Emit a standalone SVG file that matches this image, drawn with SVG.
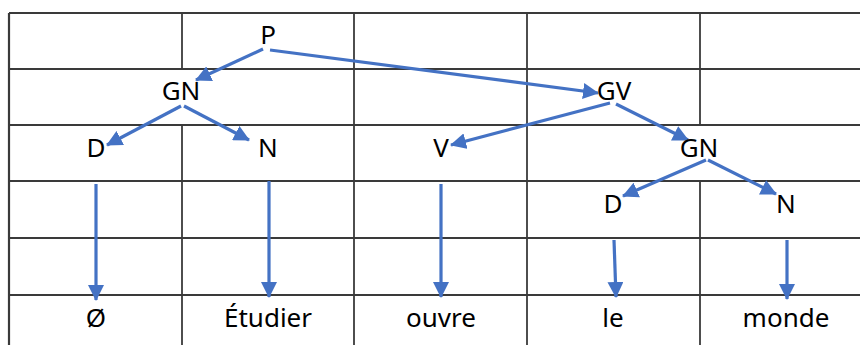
<svg xmlns="http://www.w3.org/2000/svg" width="860" height="345" viewBox="0 0 860 345">
<defs>
<style>
.grid line{stroke:#3a3a3a;stroke-width:1.8}
.lbl{font-family:"Noto Sans","DejaVu Sans",sans-serif;font-size:26px;fill:#000;text-anchor:middle}
.arr{stroke:#4472C4;stroke-width:3.2;fill:none;marker-end:url(#ah)}
</style>
<marker id="ah" markerUnits="userSpaceOnUse" markerWidth="16" markerHeight="16" refX="15" refY="8" orient="auto">
<path d="M0,0 L16,8 L0,16 z" fill="#4472C4"/>
</marker>
</defs>
<rect width="860" height="345" fill="#fff"/>
<g class="grid" id="grid">
<line x1="9" y1="13" x2="860" y2="13" style="stroke-width:2.2"/>
<line x1="9" y1="69" x2="860" y2="69"/>
<line x1="9" y1="125" x2="860" y2="125"/>
<line x1="9" y1="181" x2="860" y2="181"/>
<line x1="9" y1="238" x2="860" y2="238"/>
<line x1="9" y1="295" x2="860" y2="295"/>
<line x1="9" y1="13" x2="9" y2="345" style="stroke-width:2.2"/>
<line x1="182" y1="13" x2="182" y2="69"/>
<line x1="182" y1="125" x2="182" y2="345"/>
<line x1="354" y1="13" x2="354" y2="345"/>
<line x1="527" y1="13" x2="527" y2="345"/>
<line x1="700" y1="13" x2="700" y2="125"/>
<line x1="700" y1="181" x2="700" y2="345"/>
</g>
<g id="connectors">
<line class="arr" x1="263" y1="49" x2="196" y2="80"/>
<line class="arr" x1="270" y1="50" x2="598" y2="93"/>
<line class="arr" x1="181" y1="106" x2="107" y2="145"/>
<line class="arr" x1="184" y1="106" x2="249" y2="140"/>
<line class="arr" x1="610" y1="103" x2="451" y2="145"/>
<line class="arr" x1="616" y1="104" x2="688" y2="140"/>
<line class="arr" x1="706" y1="160" x2="623" y2="196"/>
<line class="arr" x1="708" y1="160" x2="776" y2="194"/>
<line class="arr" x1="96" y1="184" x2="96" y2="300"/>
<line class="arr" x1="269" y1="181" x2="269" y2="297"/>
<line class="arr" x1="441" y1="184" x2="441" y2="297"/>
<line class="arr" x1="614" y1="240" x2="616" y2="297"/>
<line class="arr" x1="787" y1="240" x2="787" y2="299"/>
</g>
<g id="n-P"><text class="lbl" x="268" y="44">P</text></g>
<g id="n-GN1"><text class="lbl" x="181" y="100">GN</text></g>
<g id="n-GV"><text class="lbl" x="614" y="100">GV</text></g>
<g id="n-D1"><text class="lbl" x="96" y="157">D</text></g>
<g id="n-N1"><text class="lbl" x="268" y="157">N</text></g>
<g id="n-V"><text class="lbl" x="441" y="157">V</text></g>
<g id="n-GN2"><text class="lbl" x="699" y="157">GN</text></g>
<g id="n-D2"><text class="lbl" x="613" y="213">D</text></g>
<g id="n-N2"><text class="lbl" x="786" y="213">N</text></g>
<g id="w-empty"><text class="lbl" x="96" y="327">Ø</text></g>
<g id="w-etudier"><text class="lbl" x="268" y="327">Étudier</text></g>
<g id="w-ouvre"><text class="lbl" x="441" y="327">ouvre</text></g>
<g id="w-le"><text class="lbl" x="613" y="327">le</text></g>
<g id="w-monde"><text class="lbl" x="786" y="327">monde</text></g>
</svg>
